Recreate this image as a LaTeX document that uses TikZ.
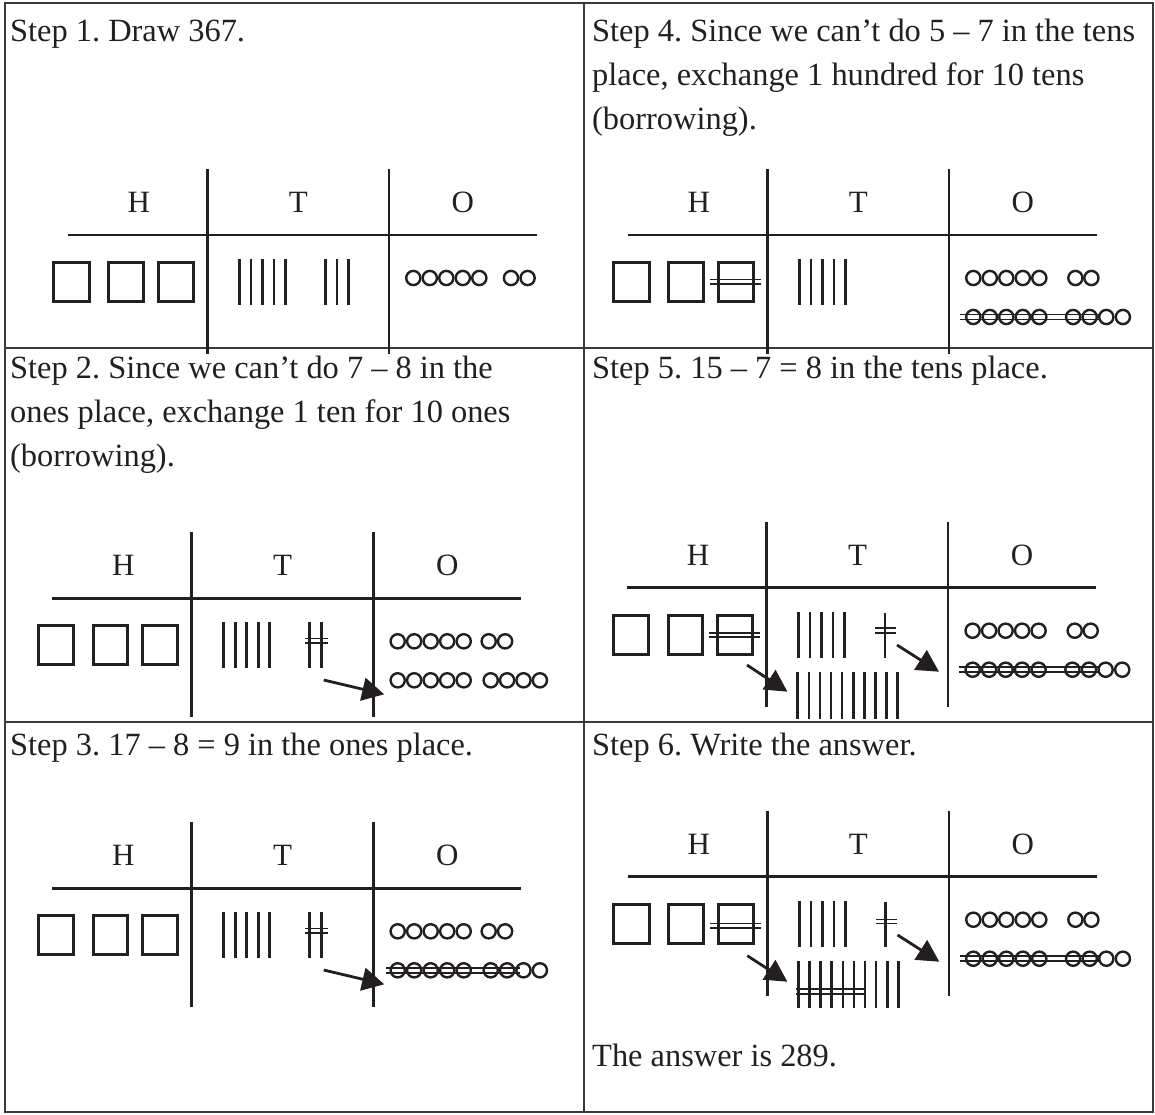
\documentclass[tikz,border=0pt]{standalone}
\usepackage{fontspec}
\setmainfont{Liberation Serif}
\usetikzlibrary{arrows.meta}
\definecolor{ink}{HTML}{231F20}
\definecolor{rulec}{HTML}{3A3A3A}
\frenchspacing
\newcommand{\PVchart}[3]{%
 \begin{scope}[shift={(#2,#3)}]
  \draw[axis] (-139.3,0) -- (329.7,0);
  \draw[axis] (0,-66) -- (0,119);
  \draw[axis] (181.5,-66) -- (181.5,119);
  \node[lbl] (#1H) at (-68.5,-32.5) {H};
  \node[lbl] (#1T) at (91,-32.5) {T};
  \node[lbl] (#1O) at (255.5,-32.5) {O};
  \draw[block] (-153.5,27.5) rectangle (-118.1,66.5);
  \draw[block] (-98.5,27.5) rectangle (-63.8,66.5);
  \draw[block] (-49.3,27.5) rectangle (-13.8,66.5);
  \foreach \i in {0,...,4} \draw[stick] ({32+11.5*\i},24) -- ({32+11.5*\i},70);
  \foreach \i in {0,...,4} \draw[bead] ({181.5+24.5+16.5*\i},43) circle (7.1);
 \end{scope}}
\begin{document}
\begin{tikzpicture}[x=1pt,y=-1pt,
  frame/.style={draw=rulec,line width=2pt},
  axis/.style={draw=ink,line width=2.6pt},
  block/.style={draw=ink,line width=3pt},
  stick/.style={draw=ink,line width=2.6pt},
  bead/.style={draw=ink,line width=2.4pt},
  strike/.style={draw=ink,line width=1.6pt},
  arrowline/.style={draw=ink,line width=2.8pt,-{Triangle[length=22pt,width=23pt]}},
  lbl/.style={font=\fontsize{31}{31}\selectfont,text=ink,inner sep=0pt},
  txt/.style={font=\fontsize{32.4}{32.4}\selectfont\frenchspacing,text=ink,inner sep=0pt,anchor=base west},
]
\useasboundingbox (0,0) rectangle (1155,1114);
% frame
\draw[frame] (4.5,3) rectangle (1152.5,1112);
\draw[frame] (584,3) -- (584,1112);
\draw[frame] (4.5,348) -- (1152.5,348);
\draw[frame] (4.5,722) -- (1152.5,722);
% texts
\node[txt] (t1) at (10,41) {Step 1. Draw 367.};
\node[txt] (t4a) at (592,41) {Step 4. Since we can’t do 5 – 7 in the tens};
\node[txt] (t4b) at (592,85) {place, exchange 1 hundred for 10 tens};
\node[txt] (t4c) at (592,129) {(borrowing).};
\node[txt] (t2a) at (10,378) {Step 2. Since we can’t do 7 – 8 in the};
\node[txt] (t2b) at (10,422) {ones place, exchange 1 ten for 10 ones};
\node[txt] (t2c) at (10,466) {(borrowing).};
\node[txt] (t5) at (592,378) {Step 5. 15 – 7 = 8 in the tens place.};
\node[txt] (t3) at (10,755) {Step 3. 17 – 8 = 9 in the ones place.};
\node[txt] (t6) at (592,755) {Step 6. Write the answer.};
\node[txt] (t6ans) at (592,1066) {The answer is 289.};
% ---- Step 1
\PVchart{a}{207.3}{235}
\begin{scope}[shift={(207.3,235)}]
  \foreach \x in {118,129.5,141} \draw[stick] (\x,24) -- (\x,70);
  \foreach \x in {122.2,138.8} \draw[bead] (181.5+\x,43) circle (7.1);
\end{scope}
% ---- Step 2
\PVchart{b}{191.7}{598.3}
\begin{scope}[shift={(191.7,598.3)}]
  \foreach \x in {117.5,129.5} \draw[stick] (\x,24) -- (\x,70);
  \draw[strike] (113.3,40) -- (135.8,40);
  \draw[strike] (113.3,44.5) -- (135.8,44.5);
  \foreach \x in {115.5,131.9} \draw[bead] (181.5+\x,43) circle (7.1);
  \foreach \i in {0,...,4} \draw[bead] ({181.5+24.5+16.5*\i},82) circle (7.1);
  \foreach \i in {0,...,3} \draw[bead] ({181.5+117.5+16.4*\i},82) circle (7.1);
  \coordinate (ba1) at (132,81.7);
  \coordinate (ba2) at (192.5,96);
  \draw[arrowline] (ba1) -- (ba2);
\end{scope}
% ---- Step 3
\PVchart{c}{191.7}{888.3}
\begin{scope}[shift={(191.7,888.3)}]
  \foreach \x in {117.5,129.5} \draw[stick] (\x,24) -- (\x,70);
  \draw[strike] (113.3,40) -- (135.8,40);
  \draw[strike] (113.3,44.5) -- (135.8,44.5);
  \foreach \x in {115.5,131.9} \draw[bead] (181.5+\x,43) circle (7.1);
  \foreach \i in {0,...,4} \draw[bead] ({181.5+24.5+16.5*\i},82) circle (7.1);
  \foreach \i in {0,...,3} \draw[bead] ({181.5+117.5+16.4*\i},82) circle (7.1);
  \draw[strike] (194.5,79.5) -- (327.8,79.5);
  \draw[strike] (194.5,84.5) -- (327.8,84.5);
  \coordinate (ca1) at (132,81.7);
  \coordinate (ca2) at (192.5,96);
  \draw[arrowline] (ca1) -- (ca2);
\end{scope}
% ---- Step 4
\PVchart{d}{767.3}{235}
\begin{scope}[shift={(767.3,235)}]
  \draw[strike] (-57.3,44.5) -- (-6.3,44.5);
  \draw[strike] (-57.3,49) -- (-6.3,49);
  \foreach \x in {126.6,142.6} \draw[bead] (181.5+\x,43) circle (7.1);
  \foreach \i in {0,...,4} \draw[bead] ({181.5+24.5+16.5*\i},82) circle (7.1);
  \foreach \i in {0,...,3} \draw[bead] ({181.5+124.3+16.6*\i},82) circle (7.1);
  \draw[strike] (192.5,79.5) -- (332,79.5);
  \draw[strike] (192.5,84.5) -- (332,84.5);
\end{scope}
% ---- Step 5
\PVchart{e}{766.6}{587.7}
\begin{scope}[shift={(766.6,587.7)}]
  \draw[strike] (-57.3,45) -- (-6.3,45);
  \draw[strike] (-57.3,49.5) -- (-6.3,49.5);
  \draw[stick] (118.4,25.3) -- (118.4,70.3);
  \draw[strike] (108.4,40.3) -- (129.4,40.3);
  \draw[strike] (108.4,45) -- (129.4,45);
  \foreach \i in {0,...,9} \draw[stick] ({31.1+11.1*\i},84) -- ({31.1+11.1*\i},131);
  \foreach \x in {126.6,142.6} \draw[bead] (181.5+\x,43) circle (7.1);
  \foreach \i in {0,...,4} \draw[bead] ({181.5+24.5+16.5*\i},82) circle (7.1);
  \foreach \i in {0,...,3} \draw[bead] ({181.5+124.3+16.6*\i},82) circle (7.1);
  \draw[strike] (192.5,79.5) -- (332,79.5);
  \draw[strike] (192.5,84.5) -- (332,84.5);
  \coordinate (ea1) at (-19.6,77.3);
  \coordinate (ea2) at (20.8,104);
  \coordinate (eb1) at (130.4,57.3);
  \coordinate (eb2) at (172.4,84);
  \draw[arrowline] (ea1) -- (ea2);
  \draw[arrowline] (eb1) -- (eb2);
\end{scope}
% ---- Step 6
\PVchart{f}{767.3}{876.7}
\begin{scope}[shift={(767.3,876.7)}]
  \draw[strike] (-57.3,46.6) -- (-6.3,46.6);
  \draw[strike] (-57.3,51) -- (-6.3,51);
  \draw[stick] (118.4,25.3) -- (118.4,70.3);
  \draw[strike] (108.4,42.6) -- (129.4,42.6);
  \draw[strike] (108.4,46.6) -- (129.4,46.6);
  \foreach \i in {0,...,9} \draw[stick] ({31.1+11.1*\i},84) -- ({31.1+11.1*\i},131);
  \draw[strike] (29,112.5) -- (99,112.5);
  \draw[strike] (29,117) -- (99,117);
  \foreach \x in {126.6,142.6} \draw[bead] (181.5+\x,43) circle (7.1);
  \foreach \i in {0,...,4} \draw[bead] ({181.5+24.5+16.5*\i},82) circle (7.1);
  \foreach \i in {0,...,3} \draw[bead] ({181.5+124.3+16.6*\i},82) circle (7.1);
  \draw[strike] (192.5,79.5) -- (332,79.5);
  \draw[strike] (192.5,84.5) -- (332,84.5);
  \coordinate (fa1) at (-20,79);
  \coordinate (fa2) at (20.1,105);
  \coordinate (fb1) at (130.3,58.3);
  \coordinate (fb2) at (172,85);
  \draw[arrowline] (fa1) -- (fa2);
  \draw[arrowline] (fb1) -- (fb2);
\end{scope}
\end{tikzpicture}
\end{document}
